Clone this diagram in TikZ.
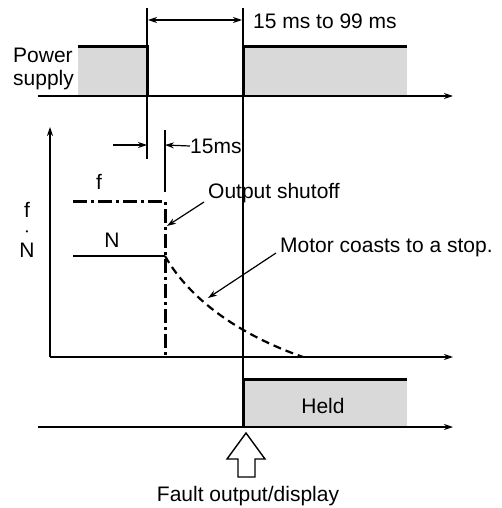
\documentclass[tikz,border=0pt]{standalone}
\usepackage{fontspec}
\setmainfont{Liberation Sans}
\usetikzlibrary{arrows.meta}
\definecolor{boxgray}{HTML}{D9D9D9}
\begin{document}
\begin{tikzpicture}[x=1pt,y=-1pt,
  txt/.style={font=\fontsize{21}{24}\selectfont, inner sep=0pt},
  thinl/.style={line width=1.2pt},
  thickl/.style={line width=3pt},
  arr/.style={thinl,-{Stealth[length=9pt,width=6pt]}},
  dblarr/.style={thinl,{Stealth[length=9pt,width=6pt]}-{Stealth[length=9pt,width=6pt]}},
  dashdot/.style={line width=3pt,dash pattern=on 14pt off 4pt on 3pt off 4pt},
  coast/.style={line width=2.2pt,dash pattern=on 8pt off 5pt},
  fillbox/.style={fill=boxgray}]
\useasboundingbox (0,0) rectangle (501,508);

% ---- power supply
\fill[fillbox] (78,47) rectangle (147,96);
\fill[fillbox] (243,47) rectangle (407,96);
\draw[thickl] (78,47) -- (147,47) -- (147,96);
\draw[thickl] (243,96) -- (243,47) -- (407,47);
\coordinate (pa0) at (38,96);
\coordinate (pa1) at (453,96);
\draw[arr] (pa0) -- (pa1);
\node[txt,anchor=base west] (pw) at (13,63) {Power};
\node[txt,anchor=base west] (sp) at (13,86) {supply};

% ---- vertical marker lines
\coordinate (v1t) at (147,8);
\coordinate (v1b) at (147,159);
\coordinate (v2t) at (243,8);
\coordinate (v2b) at (243,379);
\draw[thinl] (v1t) -- (v1b);
\draw[thinl] (v2t) -- (v2b);

% ---- 15 ms to 99 ms
\coordinate (da) at (148,20);
\coordinate (db) at (242,20);
\draw[dblarr] (da) -- (db);
\node[txt,anchor=west] (t99) at (253,21) {15 ms to 99 ms};

% ---- 15ms
\coordinate (v3t) at (165,130);
\coordinate (v3b) at (165,192);
\draw[thinl] (v3t) -- (v3b);
\coordinate (m1) at (113,145);
\coordinate (m2) at (147,145);
\draw[arr] (m1) -- (m2);
\node[txt,anchor=west] (t15) at (190,146) {15ms};
\coordinate (m3) at (165,145);
\draw[arr] (t15.west) -- (m3);

% ---- f/N axes
\coordinate (o) at (50,357);
\coordinate (ya) at (50,127);
\coordinate (xa) at (453,357);
\draw[arr] (o) -- (ya);
\draw[arr] (o) -- (xa);
\node[txt,anchor=base] (lf) at (27,217) {f};
\node[inner sep=0pt,font=\fontsize{8}{9}\selectfont,anchor=base] (ld) at (27,234) {•};
\node[txt,anchor=base] (ln) at (27,257) {N};

% f and N lines
\coordinate (f0) at (73,201);
\coordinate (f1) at (165,201);
\coordinate (f2) at (165,357);
\draw[dashdot] (f0) -- (f1) -- (f2);
\coordinate (n0) at (73,256);
\coordinate (n1) at (165,256);
\draw[line width=2.2pt] (n0) -- (n1);
\node[txt] (lf2) at (99,182) {f};
\node[txt] (ln2) at (112,240) {N};
\coordinate (ce) at (303,357);
\draw[coast] (n1) .. controls (190,300) and (240,335) .. (ce);

% annotations
\node[txt,anchor=west] (os) at (208,193) {Output shutoff};
\coordinate (osa) at (204,202);
\coordinate (osb) at (167,226);
\draw[arr] (osa) -- (osb);
\node[txt,anchor=west] (mc) at (280,247) {Motor coasts to a stop.};
\coordinate (mca) at (276,253);
\coordinate (mcb) at (208,298);
\draw[arr] (mca) -- (mcb);

% ---- held
\fill[fillbox] (243,379) rectangle (407,427);
\draw[thickl] (243,427) -- (243,379) -- (407,379);
\node[txt] (held) at (323,406) {Held};
\coordinate (ha0) at (38,427);
\coordinate (ha1) at (453,427);
\draw[arr] (ha0) -- (ha1);

% ---- fault arrow
\draw[line width=1.4pt,fill=white,line join=miter]
  (246,433) -- (265,459) -- (255,459) -- (255,477) -- (238,477) -- (238,459) -- (227,459) -- cycle;
\node[txt] (fault) at (248,496) {Fault output/display};
\end{tikzpicture}
\end{document}
